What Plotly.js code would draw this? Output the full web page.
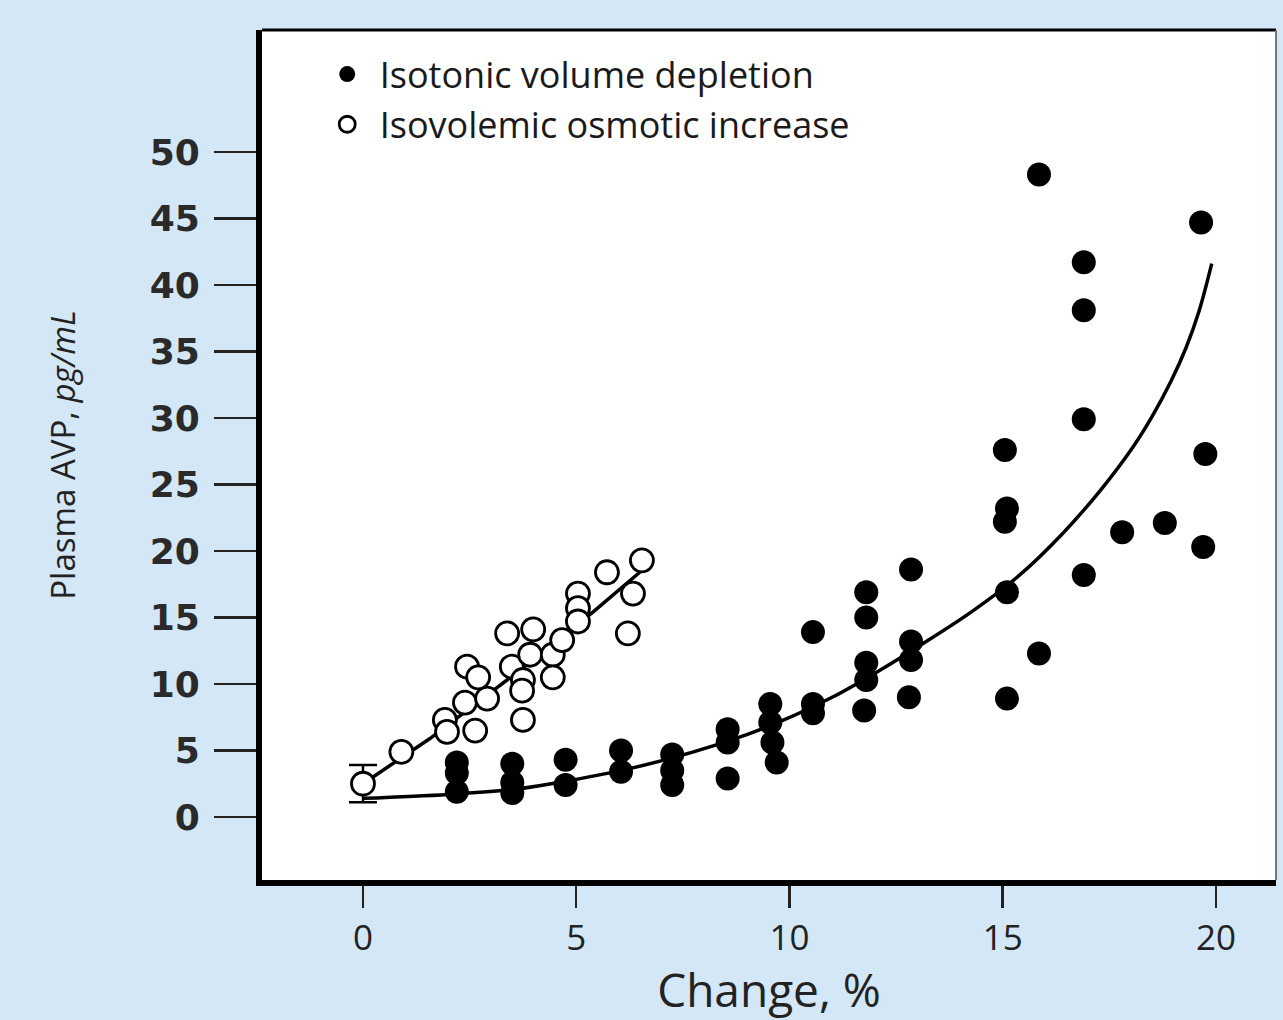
<!DOCTYPE html>
<html>
<head>
<meta charset="utf-8">
<script src="https://cdn.plot.ly/plotly-3.0.1.min.js"></script>
<style>
html,body{margin:0;padding:0;background:#d3e7f6;}
#chart{width:1283px;height:1020px;}
</style>
</head>
<body>
<div id="chart"></div>
<script>
// Isotonic volume depletion (filled circles)
const filledX = [2.2,2.2,2.2, 3.5,3.5,3.5, 4.75,4.75, 6.05,6.05, 7.25,7.25,7.25,
  8.55,8.55,8.55, 9.55,9.55,9.6,9.7, 10.55,10.55,10.55,
  11.8,11.8,11.8,11.8,11.75, 12.85,12.85,12.85,12.8,
  15.05,15.1,15.05,15.1,15.1, 15.85,15.85, 16.9,16.9,16.9,16.9,
  17.8, 18.8, 19.65,19.75,19.7];
const filledY = [4.1,3.3,1.9, 4.0,2.6,1.8, 4.3,2.4, 5.0,3.4, 4.7,3.5,2.4,
  6.6,5.6,2.9, 8.5,7.1,5.6,4.1, 13.9,8.5,7.8,
  16.9,15.0,11.6,10.3,8.0, 18.6,13.2,11.8,9.0,
  27.6,23.2,22.2,16.9,8.9, 48.3,12.3, 41.7,38.1,29.9,18.2,
  21.4, 22.1, 44.7,27.3,20.3];

// Isovolemic osmotic increase (open circles)
const openX = [0.9,1.92,1.97,2.63,2.39,2.91,2.44,2.70,3.38,3.99,3.49,3.75,3.73,3.92,
  4.45,4.67,4.45,3.75,5.04,5.04,5.04,5.72,6.54,6.33,6.21];
const openY = [4.9,7.3,6.4,6.5,8.6,8.9,11.3,10.5,13.8,14.1,11.3,10.3,9.5,12.2,
  12.2,13.3,10.5,7.3,16.8,15.7,14.7,18.4,19.3,16.8,13.8];

// Baseline point with error bar
const baseX = [0];
const baseY = [2.5];
const baseErr = [1.4];

// Fitted curves
const fitFilledX = [0, 2.0, 3.6, 4.85, 6.2, 7.75, 9.0, 9.8, 11.0, 12.1, 13.06, 14.3, 15.4, 16.4, 17.3, 18.05, 18.5, 18.95, 19.3, 19.6, 19.9];
const fitFilledY = [1.4, 1.7, 2.1, 2.75, 3.6, 4.9, 6.2, 7.2, 9.0, 11.0, 12.9, 15.5, 18.2, 21.3, 24.6, 27.8, 30.1, 32.8, 35.3, 38.0, 41.6];
const fitOpenX = [0, 1.57, 3.5, 5.39, 6.6];
const fitOpenY = [2.5, 5.9, 10.6, 15.4, 18.7];

const xTicks = [0, 5, 10, 15, 20];
const yTicks = [0, 5, 10, 15, 20, 25, 30, 35, 40, 45, 50];

const seriesNames = ['Isotonic volume depletion', 'Isovolemic osmotic increase'];

const traces = [
  {x: fitFilledX, y: fitFilledY, mode: 'lines', line: {color: '#000', width: 3.5, shape: 'spline', smoothing: 1},
   showlegend: false, hoverinfo: 'skip'},
  {x: fitOpenX, y: fitOpenY, mode: 'lines', line: {color: '#000', width: 3.5},
   showlegend: false, hoverinfo: 'skip'},
  {x: filledX, y: filledY, mode: 'markers', name: seriesNames[0], legend: 'legend',
   marker: {symbol: 'circle', size: 24, color: '#000', line: {width: 0}}},
  {x: openX, y: openY, mode: 'markers', name: seriesNames[1], legend: 'legend2',
   marker: {symbol: 'circle', size: 23, color: '#fff', line: {width: 2.8, color: '#000'}}},
  {x: baseX, y: baseY, mode: 'markers', showlegend: false,
   error_y: {type: 'data', array: baseErr, visible: true, color: '#000', thickness: 2.5, width: 14},
   marker: {symbol: 'circle', size: 23, color: '#fff', line: {width: 2.8, color: '#000'}}}
];

const legendFont = {family: 'Open Sans, sans-serif', size: 36, color: '#1a1a1a'};

const layout = {
  width: 1283, height: 1020,
  paper_bgcolor: '#d3e7f6',
  plot_bgcolor: '#ffffff',
  margin: {l: 262, r: 7, t: 30, b: 140},
  showlegend: true,
  legend: {x: 0.052, y: 0.948, xanchor: 'left', yanchor: 'middle', bgcolor: 'rgba(0,0,0,0)',
    font: legendFont, itemwidth: 55},
  legend2: {x: 0.052, y: 0.889, xanchor: 'left', yanchor: 'middle', bgcolor: 'rgba(0,0,0,0)',
    font: legendFont, itemwidth: 55},
  xaxis: {
    range: [-2.368, 21.407], tickvals: xTicks, ticktext: xTicks.map(String),
    showgrid: false, zeroline: false, showline: true, linewidth: 6, linecolor: '#000',
    ticks: 'outside', ticklen: 22, tickwidth: 2.5, tickcolor: '#222',
    tickfont: {family: 'Open Sans, sans-serif', size: 35, color: '#222'},
    title: {text: 'Change, %', font: {family: 'Open Sans, sans-serif', size: 46, color: '#222'}}
  },
  yaxis: {
    automargin: true,
    range: [-4.737, 59.17], tickvals: yTicks, ticktext: yTicks.map(String),
    showgrid: false, zeroline: false, showline: true, linewidth: 6, linecolor: '#000',
    ticks: 'outside', ticklen: 42, tickwidth: 2.5, tickcolor: '#222',
    ticklabelstandoff: 7,
    tickfont: {family: 'DejaVu Sans, sans-serif', size: 36, color: '#2a2a2a', weight: 'bold'},
    title: {text: 'Plasma AVP, <i>pg/mL</i>', standoff: 66,
      font: {family: 'Open Sans, sans-serif', size: 33, color: '#222'}}
  },
  shapes: [
    {type: 'line', xref: 'paper', yref: 'paper', x0: 0, x1: 1, y0: 1, y1: 1, line: {color: '#000', width: 3}},
    {type: 'line', xref: 'paper', yref: 'paper', x0: 1, x1: 1, y0: 0, y1: 1, line: {color: '#777', width: 2}}
  ]
};

Plotly.newPlot('chart', traces, layout, {displayModeBar: false, staticPlot: true});
</script>
</body>
</html>
